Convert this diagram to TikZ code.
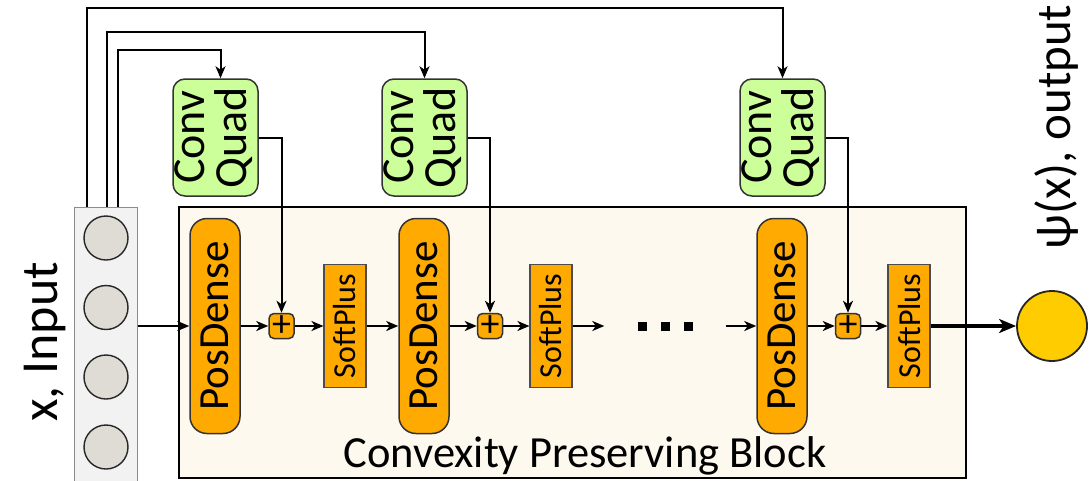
\documentclass[tikz,border=0pt]{standalone}
\usepackage{fontspec}
\setmainfont{Carlito}
\usepackage{tikz}
\usetikzlibrary{arrows.meta, positioning}
\definecolor{dense}{HTML}{FFAA00}
\definecolor{quad}{HTML}{CCFF99}
\definecolor{cream}{HTML}{FDF9EE}
\definecolor{inbox}{HTML}{F2F2F2}
\definecolor{neuron}{HTML}{DEDCD4}
\definecolor{outc}{HTML}{FFCC00}

\begin{document}
\begin{tikzpicture}[x=1pt, y=-1pt,
    arr/.style={-{Stealth[length=12pt,width=10pt,inset=3.5pt]}, line width=2pt},
    posdense/.style={draw=black!80, line width=1.5pt, fill=dense, rounded corners=17pt, minimum width=50pt, minimum height=215pt, inner sep=0pt, font=\fontsize{43}{43}\selectfont},
    softplus/.style={draw=black!70, line width=1.1pt, fill=dense, minimum width=42pt, minimum height=123pt, inner sep=0pt, font=\fontsize{32}{32}\selectfont},
    plusbox/.style={draw=black!80, line width=1.5pt, fill=dense, rounded corners=5pt, minimum size=25pt, inner sep=0pt, font=\fontsize{38}{38}\selectfont},
    convquad/.style={draw=black!80, line width=1.5pt, fill=quad, rounded corners=12pt, minimum width=85pt, minimum height=117pt, inner sep=0pt, font=\fontsize{46}{34}\selectfont},
    neuronc/.style={draw=black!85, line width=1.4pt, fill=neuron, circle, minimum size=44pt, inner sep=0pt}]
    \useasboundingbox (0,0) rectangle (1092,480);
    \node[draw, line width=2.2pt, fill=cream, minimum width=787pt, minimum height=271pt] (blk) at (572.5,342.5) {};
    \node[font=\fontsize{44.5}{44.5}\selectfont, anchor=base] (blklbl) at (585,467) {Convexity Preserving Block};
    \node[draw=black!45, line width=1pt, fill=inbox, minimum width=63pt, minimum height=275pt] (inp) at (105.5,344.5) {};
    \foreach \i/\y in {1/238,2/307.5,3/377,4/447}
        \node[neuronc] (in\i) at (106,\y) {};
    \node[rotate=90, anchor=base, font=\fontsize{52}{52}\selectfont] (inlbl) at (57,342) {x, Input};

    \foreach \i/\x in {1/215,2/424,3/782}
        \node[posdense] (pd\i) at (\x,326) {\rotatebox{90}{PosDense}};
    \foreach \i/\x in {1/281.5,2/490,3/848}
        \node[plusbox] (pl\i) at (\x,326) {+};
    \foreach \i/\x in {1/345,2/551,3/909}
        \node[softplus] (sp\i) at (\x,326) {\rotatebox{90}{SoftPlus}};
    \foreach \i/\x in {1/215.5,2/424.5,3/782.5}
        \node[convquad] (cq\i) at (\x,137.5) {\rotatebox{90}{\begin{tabular}{@{}c@{}}Conv\\Quad\end{tabular}}};
    \node[inner xsep=33pt, inner ysep=0pt] (dots) at (665,326) {\rule{9pt}{9pt}\hspace{14pt}\rule{9pt}{9pt}\hspace{14pt}\rule{9pt}{9pt}};

    \node[draw=black!85, line width=1.8pt, fill=outc, circle, minimum size=70pt, inner sep=0pt] (out) at (1052,326) {};
    \node[rotate=90, anchor=base, font=\fontsize{49}{49}\selectfont] (outlbl) at (1070,127) {ψ(x), output};

    \coordinate (t1) at (0,50);
    \coordinate (t2) at (0,32);
    \coordinate (t3) at (0,8);
    \draw[arr] ([xshift=44pt]inp.north west) |- ([xshift=5pt]cq1.north |- t1) -- ([xshift=5pt]cq1.north);
    \draw[arr] ([xshift=33pt]inp.north west) |- (cq2.north |- t2) -- (cq2.north);
    \draw[arr] ([xshift=13pt]inp.north west) |- (cq3.north |- t3) -- (cq3.north);
    \foreach \i in {1,2,3}
        \draw[arr] (cq\i.east) -| (pl\i.north);

    \draw[arr] (inp.east |- pd1.west) -- (pd1.west);
    \foreach \a/\b in {pd1/pl1, pl1/sp1, sp1/pd2, pd2/pl2, pl2/sp2, sp2/dots, dots/pd3, pd3/pl3, pl3/sp3}
        \draw[arr] (\a) -- (\b);
    \draw[-{Stealth[length=17pt,width=14pt,inset=4.5pt]}, line width=3.2pt] (sp3) -- (out);
\end{tikzpicture}
\end{document}
